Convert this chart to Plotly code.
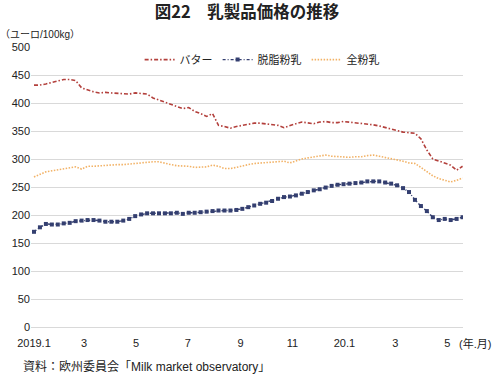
import pandas as pd
import plotly.graph_objects as go

# weekly observations, first week of Jan 2019 to mid-May 2020
weeks = pd.date_range("2019-01-01", periods=73, freq="7D")

butter = [432, 432, 434, 437, 440, 442, 442, 440, 427, 423, 420, 418, 419, 418, 417, 417,
          416, 418, 417, 416, 409, 405, 401, 398, 393, 390, 392, 385, 381, 376, 381, 360,
          358, 355, 358, 360, 362, 364, 364, 363, 362, 360, 356, 360, 363, 366, 364, 363,
          366, 367, 365, 365, 367, 366, 364, 363, 362, 361, 359, 356, 354, 351, 348, 347,
          346, 336, 316, 300, 296, 293, 289, 280, 287]

skim = [170, 178, 184, 183, 183, 185, 186, 189, 190, 191, 191, 190, 188, 188, 188, 190,
        193, 198, 201, 203, 203, 203, 203, 203, 204, 202, 204, 204, 205, 206, 207, 208,
        208, 208, 209, 211, 214, 217, 220, 222, 225, 229, 232, 233, 235, 238, 241, 244,
        246, 249, 252, 254, 255, 256, 257, 258, 260, 260, 260, 258, 256, 253, 248, 241,
        227, 216, 207, 196, 191, 193, 191, 193, 196]

whole = [268, 273, 277, 279, 281, 283, 285, 286, 282, 287, 287, 288, 289, 289, 290, 290,
         291, 292, 294, 294, 295, 295, 292, 290, 288, 288, 287, 285, 286, 286, 289, 287,
         283, 283, 285, 288, 290, 292, 293, 294, 294, 296, 296, 293, 297, 300, 302, 304,
         306, 307, 305, 304, 303, 303, 304, 304, 306, 307, 305, 303, 301, 298, 296, 293,
         292, 285, 278, 270, 265, 262, 259, 262, 266]

tick_dates = ["2019-01-01", "2019-03-01", "2019-05-01", "2019-07-01", "2019-09-01",
              "2019-11-01", "2020-01-01", "2020-03-01", "2020-05-01"]
tick_labels = ["2019.1", "3", "5", "7", "9", "11", "20.1", "3", "5"]
y_ticks = [0, 50, 100, 150, 200, 250, 300, 350, 400, 450, 500]

FONT = "Liberation Sans, Arial, Noto Sans CJK JP, sans-serif"

fig = go.Figure()
fig.add_trace(go.Scatter(x=weeks, y=butter, name="バター", mode="lines",
                         line=dict(color="#B3403C", width=1.6, dash="4px,2px,1.5px,2px")))
fig.add_trace(go.Scatter(x=weeks, y=skim, name="脱脂粉乳", mode="lines+markers",
                         line=dict(color="#343F70", width=1.4, dash="3px,2px,1px,2px"),
                         marker=dict(symbol="square", size=4, color="#343F70")))
fig.add_trace(go.Scatter(x=weeks, y=whole, name="全粉乳", mode="lines",
                         line=dict(color="#F2B266", width=1.6, dash="1.5px,1.5px")))

fig.update_layout(
    width=494, height=374,
    margin=dict(l=25, r=31, t=47, b=47),
    paper_bgcolor="white", plot_bgcolor="white",
    font=dict(family=FONT, size=11, color="#222222"),
    showlegend=True,
    legend=dict(orientation="h", x=0.535, xanchor="center", y=0.955, yanchor="middle",
                font=dict(size=11, color="#222222"), itemwidth=30,
                bgcolor="rgba(0,0,0,0)", tracegroupgap=0),
    xaxis=dict(range=["2018-12-28 12:00", "2020-05-19 12:00"], type="date",
               tickvals=tick_dates, ticktext=tick_labels, showgrid=False,
               ticks="", showline=False, zeroline=False, ticklabelstandoff=8,
               tickfont=dict(size=11, color="#222222")),
    yaxis=dict(range=[0, 500], tickvals=y_ticks, showgrid=True, gridcolor="#D9D9D9",
               gridwidth=1, zeroline=True, zerolinecolor="#D9D9D9", zerolinewidth=1,
               ticks="", showline=False, tickfont=dict(size=11, color="#222222")),
    title=dict(text="<b>図22　乳製品価格の推移</b>", x=0.5, xanchor="center",
               y=0.968, yanchor="middle",
               font=dict(size=16.5, color="#222222", family="Noto Sans CJK JP, sans-serif")),
)

fig.add_annotation(text="（ユーロ/100kg）", xref="paper", yref="paper", x=-33/438, y=1 + 12/280,
                   xanchor="left", yanchor="middle", showarrow=False,
                   font=dict(size=10, color="#222222"))
fig.add_annotation(text="(年.月)", xref="paper", yref="paper", x=(493 - 25) / 438, y=-16/280,
                   xanchor="right", yanchor="middle", showarrow=False,
                   font=dict(size=11, color="#222222"))
fig.add_annotation(text="資料：欧州委員会「Milk market observatory」", xref="paper", yref="paper",
                   x=-10/438, y=-40/280, xanchor="left", yanchor="middle", showarrow=False,
                   font=dict(size=12, color="#222222"))

fig.write_html("out.html", config={"displayModeBar": False},
               post_script="document.body.style.margin='0';document.body.style.padding='0';")
